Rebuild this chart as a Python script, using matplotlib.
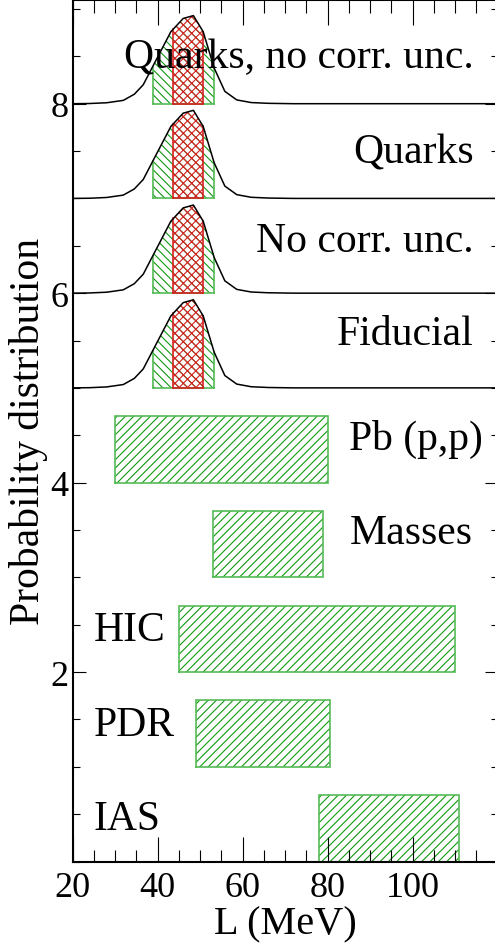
import numpy as np
import matplotlib
matplotlib.use("Agg")
import matplotlib.pyplot as plt
from matplotlib.ticker import MultipleLocator
from matplotlib import font_manager

names = {f.name for f in font_manager.fontManager.ttflist}
serif_pref = [n for n in ['Liberation Serif', 'Times New Roman', 'Nimbus Roman',
                          'DejaVu Serif'] if n in names]
plt.rcParams['font.family'] = 'serif'
plt.rcParams['font.serif'] = serif_pref + ['DejaVu Serif']
plt.rcParams['hatch.linewidth'] = 0.8

# ---- data ----
# constraint bands (L range in MeV), stacked at integer offsets
band_names = ["IAS", "PDR", "HIC", "Masses", "Pb (p,p)"]
band_lo = [78.0, 49.0, 45.0, 53.0, 30.0]
band_hi = [111.0, 80.5, 110.0, 79.0, 80.0]
band_base = [0.0, 1.0, 2.0, 3.0, 4.0]
band_height = 0.7

# probability distributions (curve heights above baseline)
dist_names = ["Fiducial", "No corr. unc.", "Quarks", "Quarks, no corr. unc."]
dist_base = [5.0, 6.0, 7.0, 8.0]
curve_L = [20, 24.0, 28.0, 31.9, 34.5, 36.6, 38.8, 43.1, 46.0, 48.4, 50.7,
           53.3, 55.8, 58.6, 62.0, 66.0, 72.0, 120]
curve_P = [0, 0.002, 0.01, 0.035, 0.10, 0.20, 0.39, 0.76, 0.90, 0.93, 0.76,
           0.375, 0.13, 0.04, 0.012, 0.004, 0.0, 0.0]
ci95 = (38.8, 53.3)   # green band
ci68 = (43.7, 50.7)   # red band

xticks = [20, 40, 60, 80, 100]
yticks = [2, 4, 6, 8]

GREEN = '#119911'
GREEN_EDGE = '#55bb55'
RED = '#d42020'

fig = plt.figure(figsize=(4.95, 9.45), dpi=100)
ax = fig.add_axes([72.7 / 495, (945 - 862.5) / 945, 425 / 495, 862 / 945])

# bands
for lo, hi, b in zip(band_lo, band_hi, band_base):
    ax.fill_between([lo, hi], [b, b], [b + band_height, b + band_height],
                    facecolor='none', edgecolor=GREEN, hatch='////', linewidth=0)
    ax.plot([lo, hi, hi, lo, lo], [b, b, b + band_height, b + band_height, b],
            color=GREEN_EDGE, lw=1.2, solid_joinstyle='miter')

# distributions
for b in dist_base:
    for (lo, hi), col, ecol, hat in [(ci95, GREEN, GREEN_EDGE, '\\\\\\\\'),
                                     (ci68, RED, RED, 'xxxx')]:
        xs = np.linspace(lo, hi, 60)
        ys = np.interp(xs, curve_L, curve_P)
        ax.fill_between(xs, b, b + ys, facecolor='none', edgecolor=col,
                        hatch=hat, linewidth=0)
        ax.plot([lo, lo], [b, b + ys[0]], color=ecol, lw=1.2)
        ax.plot([hi, hi], [b, b + ys[-1]], color=ecol, lw=1.2)
        ax.plot([lo, hi], [b, b], color=ecol, lw=1.2)
    ax.plot(curve_L, np.array(curve_P) + b, color='black', lw=1.1)

# labels
fs = 30
for name, b in zip(dist_names, dist_base):
    off = {"Fiducial": 0.463, "No corr. unc.": 0.448, "Quarks": 0.38,
           "Quarks, no corr. unc.": 0.384}[name]
    ax.text(114.3, b + off, name, ha='right', va='baseline', fontsize=fs)
for name, b in zip(band_names, band_base):
    if name in ("Masses", "Pb (p,p)"):
        ax.text(85.1, b + 0.36, name, ha='left', va='baseline', fontsize=fs)
    else:
        ax.text(24.9, b + 0.34, name, ha='left', va='baseline', fontsize=fs)

ax.set_xlim(20, 120)
ax.set_ylim(0, 9.1)
ax.set_xticks(xticks)
ax.set_yticks(yticks)
ax.xaxis.set_minor_locator(MultipleLocator(5))
ax.yaxis.set_minor_locator(MultipleLocator(0.5))
ax.tick_params(axis='x', which='major', direction='in', length=18, width=0.8,
               top=True, labelsize=26, pad=7)
ax.tick_params(axis='x', which='minor', direction='in', length=9, width=0.8,
               top=True)
ax.tick_params(axis='y', which='major', direction='in', length=9.5, width=0.8,
               right=True, labelsize=26, pad=3)
ax.tick_params(axis='y', which='minor', direction='in', length=5, width=0.8,
               right=True)
for s in ax.spines.values():
    s.set_linewidth(1.5)

ax.set_xlabel("L (MeV)", fontsize=29, labelpad=0.5)
ax.set_ylabel("Probability distribution", fontsize=30, labelpad=2)

fig.savefig("out.png", dpi=100)
